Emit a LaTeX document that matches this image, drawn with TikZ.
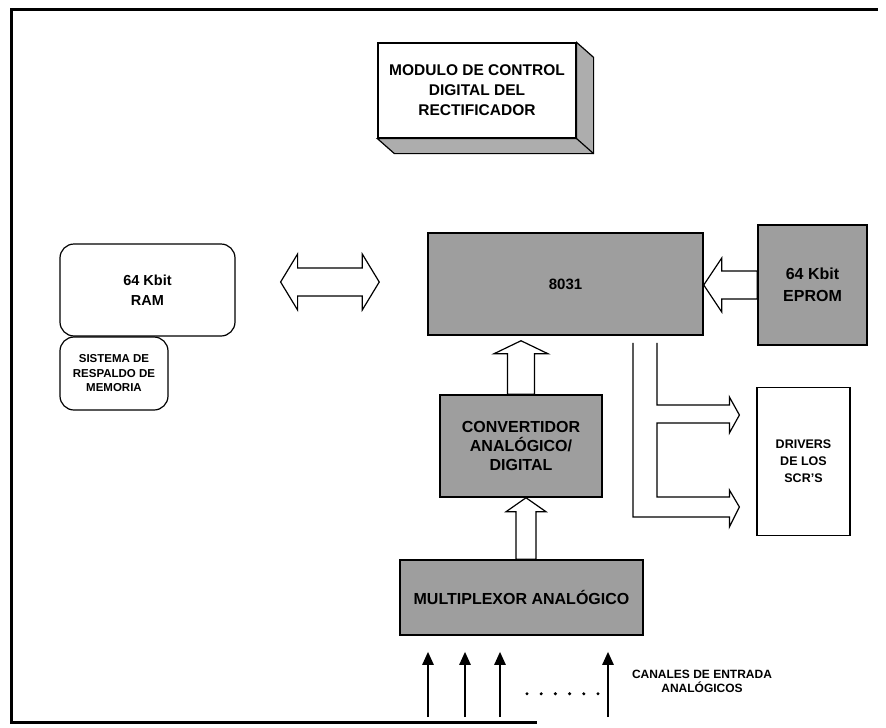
\documentclass[tikz,border=0pt]{standalone}
\usepackage{fontspec}
\setmainfont{Liberation Sans}
\usetikzlibrary{calc,arrows.meta}
\tikzset{
  shaded/.style={draw=black, line width=1.5pt, fill=black!38, inner sep=0pt, align=center, font=\bfseries},
  plainbox/.style={draw=black, line width=1.2pt, fill=white, inner sep=0pt, align=center, font=\bfseries},
  bus/.style={draw=black, line width=1.2pt, fill=white, line join=miter},
  busline/.style={draw=black, line width=1.2pt},
  band/.style={draw=black, line width=1.2pt, fill=black!32},
  inarrow/.style={line width=2.4pt, -{Triangle[length=13pt,width=11pt]}},
  frameline/.style={line width=3pt, line cap=rect}
}
\newcommand{\upbus}[5]{%
  \draw[bus] let \p1=(#1), \p2=(#2) in
    (\p1) -- (\x1+#3,\y1-#5) -- (\x1+#4,\y1-#5) -- (\x1+#4,\y2) --
    (\x1-#4,\y2) -- (\x1-#4,\y1-#5) -- (\x1-#3,\y1-#5) -- cycle;}
\begin{document}
\begin{tikzpicture}[x=1pt,y=1pt]
\useasboundingbox (0,0) rectangle (886,-728);
% frame
\draw[frameline] (11,-722) -- (11,-9) -- (876,-9);
\draw[frameline] (11,-722) -- (535,-722);

% module (3D box)
\node[plainbox, minimum width=198pt, minimum height=95pt,
      font=\bfseries\fontsize{15.5}{20}\selectfont] (mod) at (477,-90.5)
  {MODULO DE CONTROL\\DIGITAL DEL\\RECTIFICADOR};
\draw[band] (mod.south west) -- ++(17,-15) -- ($(mod.south east)+(17,-15)$)
  -- ($(mod.north east)+(17,-15)$) -- (mod.north east) -- (mod.south east) -- cycle;
\draw[line width=1.2pt] (mod.south east) -- ++(17,-15);

% RAM and backup
\node[plainbox, rounded corners=14pt, minimum width=175pt, minimum height=92pt,
      font=\bfseries\fontsize{14.5}{20}\selectfont] (ram) at (147.5,-290) {64 Kbit\\RAM};
\node[plainbox, rounded corners=14pt, minimum width=108pt, minimum height=73pt,
      font=\bfseries\fontsize{11.5}{14.5}\selectfont] (sis) at (114,-373.5)
  {SISTEMA DE\\RESPALDO DE\\MEMORIA};

% CPU, EPROM, converter, mux, drivers
\node[shaded, minimum width=275pt, minimum height=102pt,
      font=\bfseries\fontsize{15}{18}\selectfont] (cpu) at (565.5,-284) {8031};
\node[shaded, minimum width=109pt, minimum height=120pt,
      font=\bfseries\fontsize{16}{22}\selectfont] (eprom) at (812.5,-285) {64 Kbit\\EPROM};
\node[shaded, minimum width=162pt, minimum height=102pt,
      font=\bfseries\fontsize{16}{19}\selectfont] (conv) at (521,-446)
  {CONVERTIDOR\\ANALÓGICO/\\DIGITAL};
\node[shaded, minimum width=243pt, minimum height=75pt,
      font=\bfseries\fontsize{16}{18}\selectfont] (mux) at (521.5,-597.5)
  {MULTIPLEXOR ANALÓGICO};
\node[plainbox, minimum width=93pt, minimum height=148pt,
      font=\bfseries\fontsize{12.5}{17}\selectfont] (drv) at (803.5,-461.5)
  {DRIVERS\\DE LOS\\SCR'S};
\node[align=center, inner sep=0pt, font=\bfseries\fontsize{12}{13.5}\selectfont]
  (lab) at (702,-681.5) {CANALES DE ENTRADA\\ANALÓGICOS};

% double arrow RAM <-> CPU
\coordinate (dl) at ($(ram.east |- cpu.west)+(45,2)$);
\coordinate (dr) at ($(cpu.west)+(-48,2)$);
\draw[bus] let \p1=(dl), \p2=(dr) in
  (\p1) -- (\x1+17pt,\y1+28pt) -- (\x1+17pt,\y1+14pt) -- (\x2-17pt,\y2+14pt)
  -- (\x2-17pt,\y2+28pt) -- (\p2) -- (\x2-17pt,\y2-28pt) -- (\x2-17pt,\y2-14pt)
  -- (\x1+17pt,\y1-14pt) -- (\x1+17pt,\y1-28pt) -- cycle;

% EPROM -> CPU
\draw[bus] let \p1=(cpu.east), \p2=(eprom.west) in
  (\x1,\y1-1pt) -- (\x1+18pt,\y1+26pt) -- (\x1+18pt,\y1+13pt) -- (\x2,\y1+13pt)
  -- (\x2,\y1-15pt) -- (\x1+18pt,\y1-15pt) -- (\x1+18pt,\y1-28pt) -- cycle;

% converter -> CPU, mux -> converter
\coordinate (t1) at ($(cpu.south -| conv.north)+(0,-5)$);
\upbus{t1}{conv.north}{27pt}{13.5pt}{13pt}
\coordinate (t2) at ($(conv.south)+(5,0)$);
\upbus{t2}{mux.north}{20pt}{10pt}{14pt}

% bus CPU -> drivers
\coordinate (busL) at ($(cpu.south)+(67.5,-7)$);
\coordinate (busR) at ($(cpu.south)+(91.5,-7)$);
\coordinate (tipA) at ($(drv.west)+(-17,46.5)$);
\coordinate (tipB) at ($(drv.west)+(-17,-45.5)$);
\draw[busline] let \p1=(busL), \p2=(busR), \p3=(tipA), \p4=(tipB) in
  (\p2) -- (\x2,\y3+10pt) -- (\x3-10pt,\y3+10pt) -- (\x3-10pt,\y3+18pt) -- (\p3)
  -- (\x3-10pt,\y3-18pt) -- (\x3-10pt,\y3-8pt) -- (\x2,\y3-8pt) -- (\x2,\y4+10pt)
  -- (\x4-10pt,\y4+10pt) -- (\x4-10pt,\y4+17pt) -- (\p4) -- (\x4-10pt,\y4-20pt)
  -- (\x4-10pt,\y4-10pt) -- (\x1,\y4-10pt) -- (\p1);

% analog input channels
\foreach \i/\xx in {1/428,2/465,3/500,4/608}{
  \coordinate (in\i) at (\xx,-717);
  \coordinate (inT\i) at ($(in\i |- mux.south)+(0,-16)$);
  \draw[inarrow] (in\i) -- (inT\i);
}
\foreach \k in {0,...,5}{
  \fill ($(inT3)+(27+14.2*\k,-42)$) circle (1.7pt);
}
\end{tikzpicture}
\end{document}
